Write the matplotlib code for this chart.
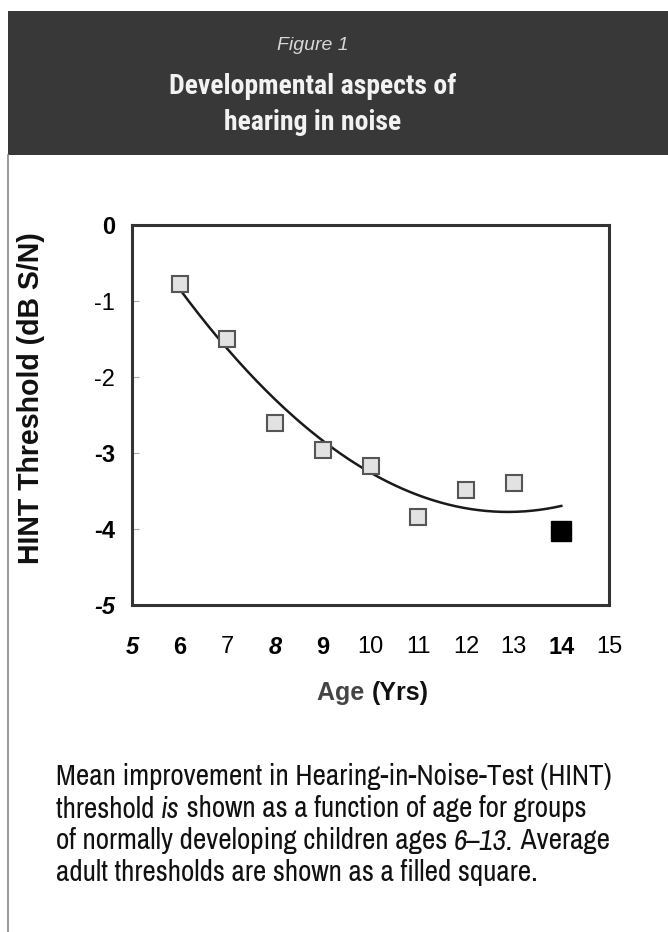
import numpy as np
import matplotlib
matplotlib.use("Agg")
import matplotlib.pyplot as plt
from matplotlib.patches import Rectangle
from matplotlib.lines import Line2D

# ---------------- data ----------------
ages = [6, 7, 8, 9, 10, 11, 12, 13]
thresholds = [-0.78, -1.50, -2.61, -2.96, -3.17, -3.84, -3.49, -3.40]
adult_age = [14]
adult_threshold = [-4.03]
# trend curve
curve_ages = [6, 7, 8, 9, 10, 11, 12, 13, 14]
curve_vals = [-0.86, -1.60, -2.28, -2.90, -3.23, -3.55, -3.73, -3.77, -3.70]

x_ticks = [5, 6, 7, 8, 9, 10, 11, 12, 13, 14, 15]
y_ticks = [0, -1, -2, -3, -4, -5]
y_tick_labels = ["0", "-1", "-2", "-3", "-4", "-5"]

title_small = "Figure 1"
title_lines = ["Developmental aspects of", "hearing in noise"]
x_label_a = "Age"
x_label_b = "(Yrs)"
y_label = "HINT Threshold (dB S/N)"

W, H = 668, 932
fig = plt.figure(figsize=(W / 100, H / 100), dpi=100)
fig.patch.set_facecolor("white")

COND = ["Roboto Condensed", "Liberation Sans", "DejaVu Sans"]
NARROW = ["Archivo Narrow", "Roboto Condensed", "Liberation Sans", "DejaVu Sans"]
SANS = ["Liberation Sans", "DejaVu Sans"]

def fx(px):
    return px / W

def fy(py):
    return 1 - py / H

fig.canvas.draw()
r = fig.canvas.get_renderer()

# header band
fig.patches.append(Rectangle((fx(8), fy(155)), fx(668) - fx(8), fy(11) - fy(155),
                             transform=fig.transFigure, facecolor="#383838",
                             edgecolor="none", zorder=0))
# left page rule
fig.lines.append(Line2D([fx(8), fx(8)], [fy(155), 0], transform=fig.transFigure,
                        color="#888888", lw=1.2))

fig.text(fx(313), fy(45), title_small, ha="center", va="center", color="#d8d8d8",
         fontsize=14, style="italic", family=SANS)
fig.text(fx(313), fy(87), title_lines[0], ha="center", va="center", color="#f2f2f2",
         fontsize=20, weight="bold", family=COND)
fig.text(fx(313), fy(122), title_lines[1], ha="center", va="center", color="#f2f2f2",
         fontsize=20, weight="bold", family=COND)

# ---------------- axes ----------------
ax = fig.add_axes([fx(132), fy(605), fx(609) - fx(132), fy(225) - fy(605)])
ax.set_xlim(5, 15)
ax.set_ylim(-5, 0)
for s in ax.spines.values():
    s.set_linewidth(2.2)
    s.set_color("#333333")

# trend curve (smooth through read points)
coef = np.polyfit(curve_ages, curve_vals, 3)
xs = np.linspace(curve_ages[0], curve_ages[-1], 200)
ax.plot(xs, np.polyval(coef, xs), color="#1a1a1a", lw=1.8, zorder=2)

ax.plot(ages, thresholds, linestyle="none", marker="s", markersize=11,
        markerfacecolor="#e2e2e2", markeredgecolor="#555555", markeredgewidth=1.5,
        zorder=3)
ax.plot(adult_age, adult_threshold, linestyle="none", marker="s", markersize=14,
        markerfacecolor="black", markeredgecolor="black", zorder=3)

ax.set_xticks(x_ticks)
ax.set_xticklabels([str(t) for t in x_ticks])
ax.set_yticks(y_ticks)
ax.set_yticklabels(y_tick_labels)
ax.tick_params(axis="x", length=0, pad=22)
ax.tick_params(axis="y", direction="in", length=5, width=0.8, color="#aaaaaa", pad=12)

x_styles = {5: ("bold", "italic"), 6: ("bold", "normal"), 8: ("bold", "italic"),
            9: ("bold", "normal"), 14: ("bold", "normal")}
for t, lab in zip(x_ticks, ax.get_xticklabels()):
    w, st = x_styles.get(t, ("normal", "normal"))
    lab.set_fontweight(w)
    lab.set_fontstyle(st)
    lab.set_fontsize(17)
    lab.set_family(SANS)

y_styles = {0: ("bold", "normal"), -3: ("bold", "normal"), -4: ("bold", "normal"),
            -5: ("bold", "italic")}
for t, lab in zip(y_ticks, ax.get_yticklabels()):
    w, st = y_styles.get(t, ("normal", "normal"))
    lab.set_fontweight(w)
    lab.set_fontstyle(st)
    lab.set_fontsize(17)
    lab.set_family(SANS)

yl = fig.text(fx(31), fy(398), y_label, rotation=90, ha="center", va="center",
              fontsize=18, weight="bold", family=SANS, color="#111111")
hgt = yl.get_window_extent(r).height
yl.set_fontsize(18 * 333 / hgt)

# x label with two colours
ta = fig.text(0, fy(693), x_label_a + " ", ha="left", va="center", fontsize=18,
              weight="bold", family=SANS, color="#444444")
tb = fig.text(0, fy(693), x_label_b, ha="left", va="center", fontsize=18,
              weight="bold", family=SANS, color="#111111")
wa = ta.get_window_extent(r).width
wb = tb.get_window_extent(r).width
start = 373 - (wa + wb) / 2
ta.set_x(fx(start))
tb.set_x(fx(start + wa))

# ---------------- caption ----------------
caption_lines = [
    [("Mean improvement in Hearing-in-Noise-Test (HINT)", "normal")],
    [("threshold ", "normal"), ("is", "italic"), (" shown as a function of age for groups", "normal")],
    [("of normally developing children ages ", "normal"), ("6–13.", "italic"), (" Average", "normal")],
    [("adult thresholds are shown as a filled square.", "normal")],
]
probe = fig.text(0, 0, caption_lines[0][0][0], fontsize=20, family=NARROW)
cap_size = 20 * 556 / probe.get_window_extent(r).width
probe.remove()

line_y = [777, 809, 841, 872]
for segs, yy in zip(caption_lines, line_y):
    x = 56
    for txt, st in segs:
        t = fig.text(fx(x), fy(yy), txt, ha="left", va="center", fontsize=cap_size,
                     style=st, family=NARROW, color="#111111")
        x += t.get_window_extent(r).width

fig.savefig("out.png", dpi=100, facecolor="white")
